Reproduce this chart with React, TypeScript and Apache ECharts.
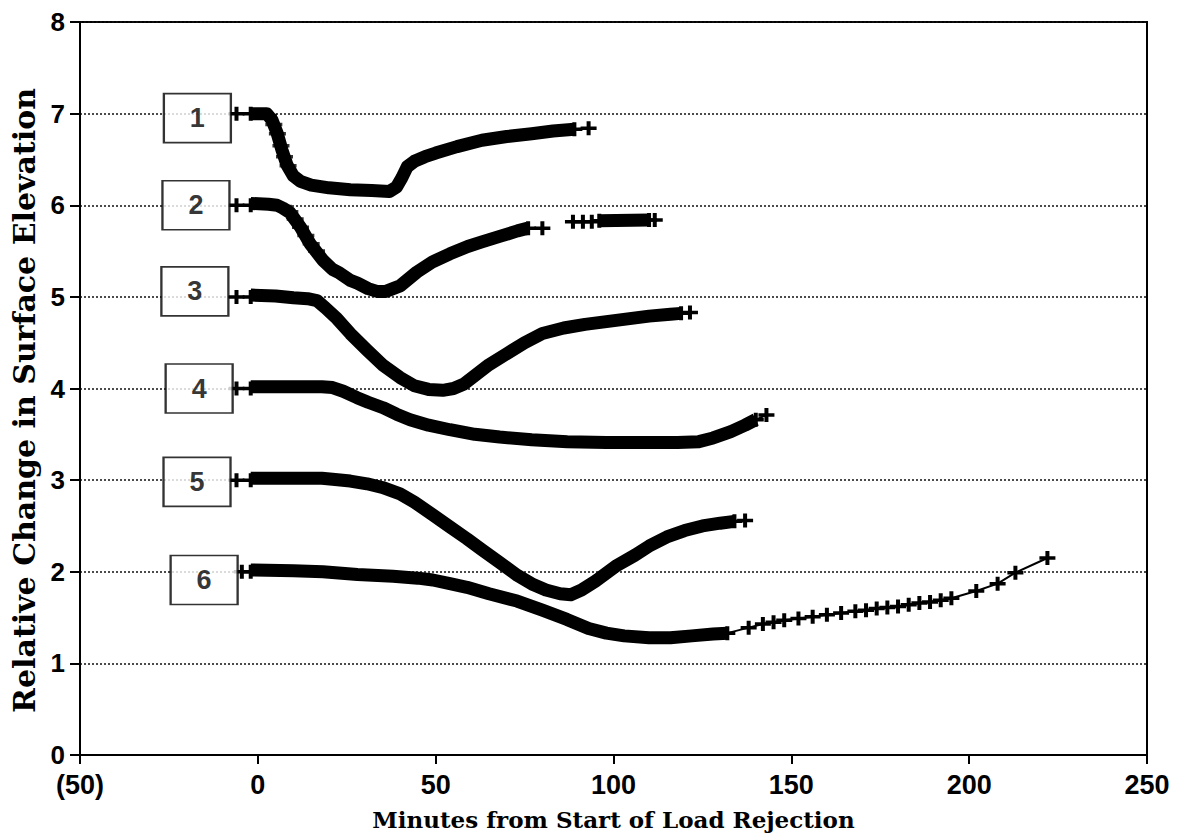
import React, { useEffect, useRef } from "react";
import * as echarts from "echarts";

// ---- data (x: minutes, y: relative change) ----
const xTicks = [-50, 0, 50, 100, 150, 200, 250];
const labelBoxes: [number, number, string][] = [
  [-17, 6.95, "1"],
  [-17.4, 6.0, "2"],
  [-17.7, 5.06, "3"],
  [-16.5, 4.0, "4"],
  [-17.1, 2.98, "5"],
  [-15.1, 1.91, "6"],
];

const lead1: [number, number][] = [[-6, 7.0], [-2, 7.0]];
const lead2: [number, number][] = [[-6, 6.0], [-2, 6.0]];
const lead3: [number, number][] = [[-6, 5.0], [-2, 5.0]];
const lead4: [number, number][] = [[-6, 4.0], [-2, 4.0]];
const lead5: [number, number][] = [[-6, 3.0], [-2, 3.0]];
const lead6: [number, number][] = [[-4.5, 2.0], [-2, 2.0]];

const band1: [number, number][] = [
  [-2, 7.0], [2.5, 7.0], [4, 6.93], [5.4, 6.79], [6.8, 6.6], [8.2, 6.44], [10, 6.32],
  [12, 6.26], [15, 6.22], [20, 6.19], [26, 6.17], [32, 6.16], [37, 6.15], [39, 6.2],
  [40.5, 6.3], [42, 6.42], [44, 6.48], [47, 6.53], [50, 6.57], [56, 6.64], [63, 6.71],
  [70, 6.75], [77, 6.78], [83, 6.81], [89, 6.83],
];
const tail1: [number, number][] = [[89, 6.83], [93, 6.84]];
const drop1: [number, number][] = [[3, 6.98], [4.5, 6.88], [5.5, 6.78], [6.5, 6.65], [7.5, 6.53], [8.5, 6.43]];

const band2: [number, number][] = [
  [-2, 6.02], [3, 6.01], [5.4, 6.0], [7, 5.97], [9, 5.92], [10.5, 5.84], [12, 5.76],
  [14.7, 5.58], [18.3, 5.4], [21, 5.3], [23, 5.26], [26, 5.18], [28, 5.15], [31, 5.09],
  [33.5, 5.06], [36, 5.06], [40, 5.12], [44.7, 5.27], [49, 5.38], [54, 5.47], [59, 5.55],
  [63, 5.6], [68, 5.66], [73, 5.72], [76, 5.75],
];
const tail2a: [number, number][] = [[76, 5.75], [80, 5.75]];
const tail2b: [number, number][] = [[88.6, 5.82], [91.4, 5.82], [93.9, 5.82], [96, 5.83]];
const band2b: [number, number][] = [[96, 5.83], [110, 5.84]];
const end2: [number, number][] = [[110, 5.84], [111.6, 5.84]];
const drop2: [number, number][] = [[9, 5.93], [10.5, 5.85], [12, 5.76], [13.5, 5.67], [15, 5.58], [16.5, 5.5]];

const band3: [number, number][] = [
  [-2, 5.02], [5, 5.01], [10, 4.99], [14, 4.98], [16.6, 4.96], [19, 4.88], [22.3, 4.76],
  [26, 4.6], [30.7, 4.42], [35, 4.26], [40, 4.12], [44, 4.03], [48, 3.99], [52, 3.98],
  [55, 4.0], [58, 4.05], [61, 4.14], [65, 4.26], [70, 4.38], [75, 4.5], [80, 4.6],
  [86, 4.66], [92, 4.7], [98, 4.73], [104, 4.76], [110, 4.79], [116, 4.81], [119, 4.82],
];
const tail3: [number, number][] = [[119, 4.82], [121.5, 4.83]];

const band4: [number, number][] = [
  [-2, 4.02], [5, 4.02], [12, 4.02], [18, 4.02], [21, 4.01], [24, 3.97], [27.9, 3.9],
  [31, 3.85], [35.2, 3.79], [39, 3.72], [42.8, 3.66], [48, 3.6], [54, 3.55], [61, 3.5],
  [68, 3.47], [77, 3.44], [87, 3.42], [98, 3.41], [110, 3.41], [118, 3.41], [124, 3.42],
  [128, 3.46], [133, 3.53], [137, 3.6], [140, 3.66],
];
const tail4: [number, number][] = [[140, 3.66], [143, 3.71]];

const band5: [number, number][] = [
  [-2, 3.02], [5, 3.02], [12, 3.02], [18, 3.02], [21, 3.01], [26, 2.99], [30.7, 2.96],
  [35, 2.92], [40, 2.85], [44, 2.76], [49.2, 2.62], [54, 2.49], [58.8, 2.36], [63, 2.24],
  [68, 2.1], [73, 1.96], [77.4, 1.86], [81, 1.8], [85, 1.76], [88, 1.75], [91, 1.8],
  [95, 1.9], [101, 2.07], [106, 2.18], [110, 2.28], [115, 2.38], [120, 2.45], [125, 2.5],
  [130, 2.53], [134, 2.55],
];
const tail5: [number, number][] = [[134, 2.55], [137, 2.56]];

const band6: [number, number][] = [
  [-2, 2.02], [10, 2.01], [18.3, 2.0], [28, 1.97], [38, 1.95], [45, 1.93], [49.2, 1.91],
  [54, 1.87], [58.8, 1.83], [65, 1.76], [72.9, 1.68], [80, 1.58], [86.9, 1.48], [93, 1.38],
  [98, 1.33], [103, 1.3], [110, 1.28], [116, 1.28], [122, 1.3], [128, 1.32], [132, 1.33],
];
const tail6: [number, number][] = [
  [132, 1.33], [138, 1.39], [142, 1.43], [145, 1.45], [148, 1.47], [152, 1.49], [156, 1.51],
  [160, 1.53], [164, 1.55], [168, 1.57], [171, 1.58], [174, 1.6], [177, 1.61], [180, 1.62],
  [183, 1.64], [186, 1.66], [189, 1.67], [192, 1.69], [195, 1.71], [202, 1.79], [208, 1.87],
  [213, 1.99], [222, 2.15],
];

const CROSS = "path://M0,3.75H3.75V0H6.25V3.75H10V6.25H6.25V10H3.75V6.25H0Z";

function thin(name: string, data: [number, number][]) {
  return {
    name,
    type: "line",
    data,
    symbol: CROSS,
    symbolSize: [16, 14],
    showSymbol: true,
    itemStyle: { color: "#000" },
    lineStyle: { color: "#000", width: 2 },
    z: 3,
  };
}
function band(name: string, data: [number, number][]) {
  return {
    name,
    type: "line",
    data,
    symbol: "none",
    showSymbol: false,
    lineStyle: { color: "#000", width: 13, join: "round", cap: "butt" },
    z: 4,
  };
}
function crosses(name: string, data: [number, number][]) {
  return {
    name,
    type: "scatter",
    data,
    symbol: CROSS,
    symbolSize: [17, 14],
    itemStyle: { color: "#000" },
    z: 4,
  };
}

export default function App() {
  const ref = useRef<HTMLDivElement>(null);
  useEffect(() => {
    if (!ref.current) return;
    const chart = echarts.init(ref.current, undefined, { renderer: "svg" });
    chart.setOption({
      animation: false,
      backgroundColor: "#fff",
      grid: {
        left: 80, right: 30, top: 22, bottom: 82,
        outerBoundsMode: "none",
        containLabel: false,
        show: true, borderColor: "#000", borderWidth: 2, backgroundColor: "transparent",
      },
      xAxis: {
        type: "value",
        min: -50, max: 250, interval: 50,
        name: "Minutes from Start of Load Rejection",
        nameLocation: "middle",
        nameGap: 53,
        nameTextStyle: { fontFamily: "DejaVu Serif", fontSize: 23, fontWeight: "bold", color: "#000" },
        axisLine: { show: true, onZero: false, lineStyle: { color: "#000", width: 2 } },
        axisTick: { show: true, inside: false, length: 9, lineStyle: { color: "#000", width: 2 } },
        axisLabel: {
          formatter: (v: number) => (v < 0 ? `(${-v})` : `${v}`),
          fontFamily: "Liberation Sans", fontSize: 27, fontWeight: "bold", color: "#000", margin: 16,
          customValues: xTicks,
        },
        splitLine: { show: false },
      },
      yAxis: {
        type: "value",
        min: 0, max: 8, interval: 1,
        name: "Relative Change in Surface Elevation",
        nameLocation: "middle",
        nameGap: 40,
        nameRotate: 90,
        nameTextStyle: {
          fontFamily: "DejaVu Serif", fontSize: 30, fontWeight: "bold", color: "#000",
          padding: [0, 24, 0, 0],
        },
        axisLine: { show: true, onZero: false, lineStyle: { color: "#000", width: 2 } },
        axisTick: { show: true, inside: false, length: 10, lineStyle: { color: "#000", width: 2 } },
        axisLabel: { fontFamily: "Liberation Sans", fontSize: 26, fontWeight: "bold", color: "#000", margin: 15 },
        splitLine: { show: true, lineStyle: { color: "#111", width: 1.5, type: [2, 2] } },
      },
      series: [
        thin("lead1", lead1), thin("lead2", lead2), thin("lead3", lead3),
        thin("lead4", lead4), thin("lead5", lead5), thin("lead6", lead6),
        band("band1", band1), thin("tail1", tail1), crosses("drop1", drop1),
        band("band2", band2), thin("tail2a", tail2a), thin("tail2b", tail2b),
        band("band2b", band2b), thin("end2", end2), crosses("drop2", drop2),
        band("band3", band3), thin("tail3", tail3),
        band("band4", band4), thin("tail4", tail4),
        band("band5", band5), thin("tail5", tail5),
        band("band6", band6), thin("tail6", tail6),
        {
          name: "boxes",
          type: "scatter",
          data: labelBoxes,
          symbol: "rect",
          symbolSize: [67, 49],
          itemStyle: { color: "#fff", borderColor: "#000", borderWidth: 2 },
          label: {
            show: true,
            position: "inside",
            formatter: (p: any) => p.data[2],
            fontFamily: "Liberation Sans", fontSize: 27, fontWeight: "bold", color: "#000",
          },
          z: 10,
        },
      ],
    });
    return () => chart.dispose();
  }, []);
  return (
    <div
      ref={ref}
      style={{ position: "absolute", left: 0, top: 0, width: 1177, height: 837 }}
    />
  );
}
